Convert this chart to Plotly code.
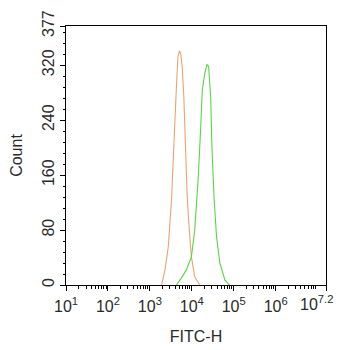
import plotly.graph_objects as go

# Orange histogram (isotype/control)
orange_x = [1905, 2291, 2754, 3311, 3631, 3981, 4365, 4677, 5129, 5495, 5888,
            6457, 7079, 7762, 8710, 9772, 11749, 15488]
orange_y = [0, 22, 56, 128, 187, 250, 298, 332, 341, 335, 318,
            274, 201, 128, 80, 41, 12, 0]

# Green histogram (stained sample)
green_x = [4266, 5623, 7413, 9772, 11749, 14125, 16218, 17783, 20417, 22909,
           25119, 28184, 30200, 33884, 38905, 46774, 61660, 79433]
green_y = [0, 10, 22, 41, 80, 153, 226, 284, 308, 321,
           318, 274, 201, 128, 70, 32, 7, 0]

x_tick_vals = [1e1, 1e2, 1e3, 1e4, 1e5, 1e6, 10 ** 7.2]
x_tick_text = ["10<sup>1</sup>", "10<sup>2</sup>", "10<sup>3</sup>", "10<sup>4</sup>",
               "10<sup>5</sup>", "10<sup>6</sup>", ""]
x_last_label = "10<sup>7.2</sup>"
y_tick_vals = [0, 80, 160, 240, 320, 377]

minor_x = [m * 10 ** d for d in range(1, 7) for m in range(2, 10)] + [2e7]

fig = go.Figure()
fig.add_trace(go.Scatter(x=orange_x, y=orange_y, mode="lines",
                         line=dict(color="#E9A474", width=1.1), showlegend=False))
fig.add_trace(go.Scatter(x=green_x, y=green_y, mode="lines",
                         line=dict(color="#5CD447", width=1.1), showlegend=False))

axis_font = dict(family="Liberation Sans, Arial", color="#333333")
# page body has an 8px margin, so the figure is sized/positioned to compensate
fig.update_layout(
    width=334, height=342,
    margin=dict(l=58, r=16, t=18, b=65),
    paper_bgcolor="white", plot_bgcolor="white",
    font=axis_font,
    xaxis=dict(type="log", range=[1, 7.2], tickvals=x_tick_vals, ticktext=x_tick_text,
               automargin=False, ticklabelstandoff=2,
               ticks="outside", ticklen=5, tickcolor="black", showgrid=False,
               zeroline=False, showline=True, linecolor="black", linewidth=1, mirror=True,
               tickfont=dict(size=16, color="#2a2a2a"),
               minor=dict(tickvals=minor_x, ticks="outside", ticklen=2.5, tickcolor="black",
                          showgrid=False),
               title=dict(text="FITC-H", font=dict(size=16, color="#2a2a2a"), standoff=16)),
    yaxis=dict(range=[0, 377], tickvals=y_tick_vals, ticks="outside", ticklen=5,
               automargin=False,
               tickcolor="black", showgrid=False, zeroline=False, showline=True,
               linecolor="black", linewidth=1, mirror=True, tickangle=-90,
               tickfont=dict(size=16, color="#2a2a2a"),
               minor=dict(dtick=16, ticks="outside", ticklen=2.5, tickcolor="black",
                          showgrid=False),
               title=dict(text="Count", font=dict(size=16, color="#2a2a2a"), standoff=12)),
)
fig.add_annotation(x=7.2, y=0, xref="x", yref="paper", text=x_last_label,
                   showarrow=False, xanchor="center", yanchor="top",
                   xshift=-10, yshift=-6, font=dict(size=16, color="#2a2a2a"))

fig.write_html("out.html")
